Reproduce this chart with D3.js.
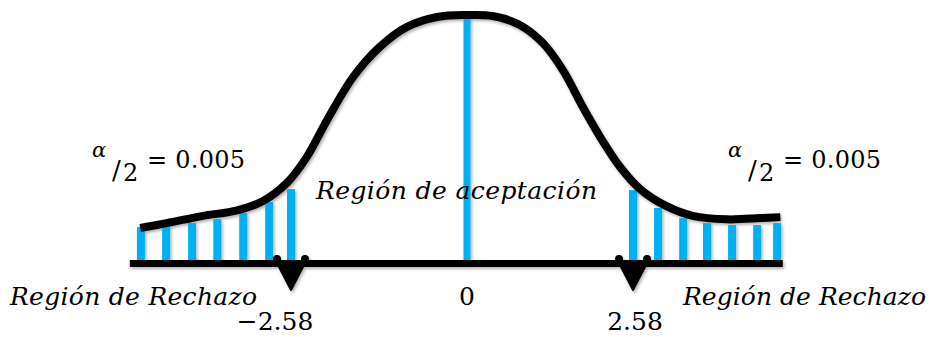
<!DOCTYPE html>
<html>
<head>
<meta charset="utf-8">
<script src="https://cdn.jsdelivr.net/npm/d3@7"></script>
<style>
    body { margin: 0; background: #fff; }
    svg { display: block; }
    text { font-family: "DejaVu Serif", "Liberation Serif", serif; fill: #000; }
</style>
</head>
<body>
<div id="container"></div>
<script>
// curve of the distribution (z value, height relative to the peak)
const curveZ = [-4.79, -4.40, -3.87, -3.37, -2.99, -2.64, -2.35, -2.05, -1.67, -1.28, -0.88, -0.44, 0,
                0.40, 0.82, 1.18, 1.49, 1.80, 2.07, 2.38, 2.69, 3.11, 3.51, 4.04, 4.56, 4.87];
const curveH = [0.141, 0.161, 0.190, 0.212, 0.250, 0.323, 0.427, 0.577, 0.750, 0.871, 0.952, 0.992, 1.0,
                0.996, 0.960, 0.887, 0.778, 0.629, 0.508, 0.387, 0.298, 0.228, 0.190, 0.176, 0.181, 0.185];
// hatch bars in the rejection regions
const leftBarZ = [-4.78, -4.41, -4.03, -3.66, -3.28, -2.90, -2.58];
const leftBarH = [0.145, 0.149, 0.161, 0.177, 0.202, 0.246, 0.298];
const rightBarZ = [2.58, 2.97, 3.36, 3.73, 4.12, 4.51, 4.82];
const rightBarH = [0.294, 0.222, 0.181, 0.161, 0.153, 0.153, 0.161];
const centerZ = 0;
const centerH = 0.988;
const criticalValues = [-2.58, 2.58];
const tickLabels = ["\u22122.58", "0", "2.58"];
const tickValues = [-2.58, 0, 2.58];
const alphaHalf = "= 0.005";
const regionLabels = ["Región de Rechazo", "Región de aceptación", "Región de Rechazo"];
const axisExtent = [-4.95, 4.90];

const w = 931;
const h = 337;
const blue = "#00b0f0";

const x = d3.scaleLinear()
      .domain([-2.58, 0, 2.58])
      .range([291, 467, 633]);

const y = d3.scaleLinear()
      .domain([0, 1])
      .range([263, 15]);

let svg = d3.select("#container")
    .append("svg")
    .attr("width", w)
    .attr("height", h);

const defs = svg.append("defs");
const shadow = defs.append("filter")
    .attr("id", "shadow")
    .attr("x", "-10%").attr("y", "-10%")
    .attr("width", "120%").attr("height", "130%");
shadow.append("feDropShadow")
    .attr("dx", 1.5).attr("dy", 2)
    .attr("stdDeviation", 1.5)
    .attr("flood-color", "#000")
    .attr("flood-opacity", 0.3);

const marks = svg.append("g").attr("filter", "url(#shadow)");

// blue bars
const bars = leftBarZ.map((z, i) => ({z: z, h: leftBarH[i]}))
    .concat(rightBarZ.map((z, i) => ({z: z, h: rightBarH[i]})));

marks.selectAll("rect.bar")
    .data(bars)
    .enter()
    .append("rect")
    .attr("class", "bar")
    .attr("x", (d) => x(d.z) - 4)
    .attr("width", 8)
    .attr("y", (d) => y(d.h))
    .attr("height", (d) => y(0) - y(d.h))
    .attr("fill", blue);

marks.append("rect")
    .attr("x", x(centerZ) - 3.5)
    .attr("width", 7)
    .attr("y", y(centerH))
    .attr("height", y(0) - y(centerH))
    .attr("fill", blue);

// axis line
const axis = d3.axisBottom(d3.scaleLinear().domain(axisExtent).range([x(axisExtent[0]), x(axisExtent[1])]))
      .tickValues([])
      .tickSizeOuter(0);

marks.append("g")
    .attr("transform", "translate(0," + y(0) + ")")
    .call(axis)
    .select(".domain")
    .attr("stroke", "#000")
    .attr("stroke-width", 7);

// critical value arrows
criticalValues.forEach((c) => {
    const cx = x(c);
    marks.append("path")
        .attr("d", "M" + (cx - 14) + "," + y(0) + " L" + (cx + 14) + "," + y(0) + " L" + cx + "," + (y(0) + 27) + " Z")
        .attr("fill", "#000")
        .attr("stroke", "#000")
        .attr("stroke-linejoin", "round")
        .attr("stroke-width", 2);
    [-14, 14].forEach((o) => {
        marks.append("circle")
            .attr("cx", cx + o)
            .attr("cy", y(0) - 4)
            .attr("r", 4)
            .attr("fill", "#000");
    });
});

// the curve
const line = d3.line()
      .x((d) => x(d[0]))
      .y((d) => y(d[1]))
      .curve(d3.curveCatmullRom.alpha(0.5));

marks.append("path")
    .datum(curveZ.map((z, i) => [z, curveH[i]]))
    .attr("d", line)
    .attr("fill", "none")
    .attr("stroke", "#000")
    .attr("stroke-width", 8)
    .attr("stroke-linecap", "butt");

// tick labels
svg.append("text")
    .attr("x", x(tickValues[0]) - 16)
    .attr("y", 330)
    .attr("text-anchor", "middle")
    .style("font-size", "25px")
    .text(tickLabels[0]);

svg.append("text")
    .attr("x", x(tickValues[1]))
    .attr("y", 305)
    .attr("text-anchor", "middle")
    .style("font-size", "25px")
    .text(tickLabels[1]);

svg.append("text")
    .attr("x", x(tickValues[2]) + 2)
    .attr("y", 330)
    .attr("text-anchor", "middle")
    .style("font-size", "25px")
    .text(tickLabels[2]);

// region labels
const italic = (sel) => sel.style("font-style", "italic").style("font-size", "25px");

svg.append("text")
    .attr("x", 10).attr("y", 305)
    .attr("textLength", 247).attr("lengthAdjust", "spacing")
    .call(italic)
    .text(regionLabels[0]);

svg.append("text")
    .attr("x", 316).attr("y", 199)
    .attr("textLength", 281).attr("lengthAdjust", "spacing")
    .call(italic)
    .text(regionLabels[1]);

svg.append("text")
    .attr("x", 683).attr("y", 305)
    .attr("textLength", 243).attr("lengthAdjust", "spacing")
    .call(italic)
    .text(regionLabels[2]);

// alpha / 2 labels
[88, 724].forEach((x0) => {
    const g = svg.append("g").attr("transform", "translate(" + x0 + ",0)");
    g.append("text")
        .attr("x", 4).attr("y", 157)
        .style("font-style", "italic")
        .style("font-size", "21px")
        .text("\u03b1");
    g.append("text")
        .attr("x", 24).attr("y", 179)
        .style("font-size", "26px")
        .text("/");
    g.append("text")
        .attr("x", 35).attr("y", 181)
        .style("font-size", "24px")
        .text("2");
    g.append("text")
        .attr("x", 59).attr("y", 168)
        .attr("textLength", 98).attr("lengthAdjust", "spacing")
        .style("font-size", "24px")
        .text(alphaHalf);
});
</script>
</body>
</html>
